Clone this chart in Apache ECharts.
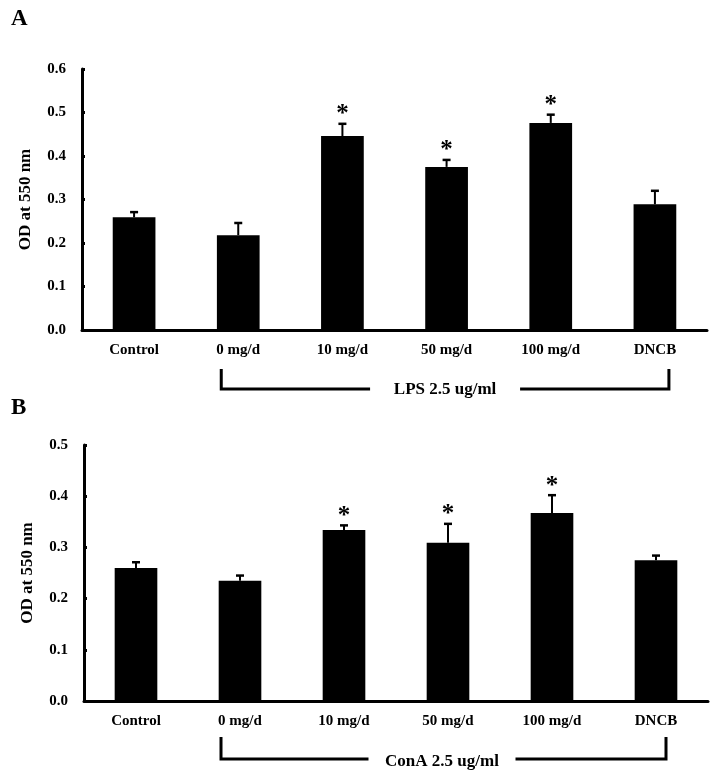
<!DOCTYPE html>
<html><head><meta charset="utf-8">
<script src="https://cdn.jsdelivr.net/npm/echarts@6/dist/echarts.min.js"></script>
<style>html,body{margin:0;padding:0;background:#fff}#c{width:710px;height:777px}</style>
</head><body><div id="c"></div>
<script>
var categories = ['Control', '0 mg/d', '10 mg/d', '50 mg/d', '100 mg/d', 'DNCB'];
var lpsMean = [0.259, 0.218, 0.446, 0.375, 0.476, 0.289];
var lpsErr  = [0.012, 0.028, 0.028, 0.016, 0.019, 0.031];
var lpsSig  = [0, 0, 1, 1, 1, 0];
var conaMean = [0.260, 0.235, 0.334, 0.309, 0.367, 0.275];
var conaErr  = [0.011, 0.010, 0.009, 0.037, 0.035, 0.009];
var conaSig  = [0, 0, 1, 1, 1, 0];
var yTicksA = [0, 0.1, 0.2, 0.3, 0.4, 0.5, 0.6];
var yTicksB = [0, 0.1, 0.2, 0.3, 0.4, 0.5];
var yName = 'OD at 550 nm';
var bracketA = 'LPS 2.5 ug/ml';
var bracketB = 'ConA 2.5 ug/ml';

var FONT = '"Liberation Serif", "Times New Roman", serif';
var chart = echarts.init(document.getElementById('c'), null, {renderer: 'canvas'});

function errData(mean, err, sig) {
  return mean.map(function (m, i) { return [i, m, m + err[i], sig[i]]; });
}
function errRender(params, api) {
  var i = api.value(0);
  var top = api.coord([i, api.value(1)]);
  var hi = api.coord([i, api.value(2)]);
  var children = [
    {type: 'line', shape: {x1: top[0], y1: top[1], x2: hi[0], y2: hi[1]}, style: {stroke: '#000', lineWidth: 2}},
    {type: 'line', shape: {x1: hi[0] - 4, y1: hi[1], x2: hi[0] + 4, y2: hi[1]}, style: {stroke: '#000', lineWidth: 2.5}}
  ];
  if (api.value(3)) {
    children.push({type: 'text', style: {text: '*', x: hi[0], y: hi[1] - 9, align: 'center', verticalAlign: 'middle',
      font: 'bold 25px ' + FONT, fill: '#000'}});
  }
  return {type: 'group', children: children};
}
function xAxisCfg(gi) {
  return {
    type: 'category', gridIndex: gi, data: categories,
    axisLine: {lineStyle: {color: '#000', width: 3}},
    axisTick: {show: false},
    axisLabel: {color: '#000', fontFamily: FONT, fontWeight: 'bold', fontSize: 15, margin: 13}
  };
}
function yAxisCfg(gi, max) {
  return {
    type: 'value', gridIndex: gi, min: 0, max: max, interval: 0.1,
    name: yName, nameLocation: 'middle', nameGap: 48, nameRotate: 90,
    nameTextStyle: {color: '#000', fontFamily: FONT, fontWeight: 'bold', fontSize: 17},
    axisLine: {show: true, lineStyle: {color: '#000', width: 3}},
    axisTick: {show: true, inside: true, length: 3, lineStyle: {color: '#000', width: 3}},
    splitLine: {show: false},
    axisLabel: {color: '#000', fontFamily: FONT, fontWeight: 'bold', fontSize: 15, margin: 16,
      formatter: function (v) { return v.toFixed(1); }}
  };
}

chart.setOption({
  animation: false,
  backgroundColor: '#fff',
  title: [
    {text: 'A', left: 6, top: 3, textStyle: {fontFamily: FONT, fontWeight: 'bold', fontSize: 23, color: '#000'}},
    {text: 'B', left: 6, top: 392, textStyle: {fontFamily: FONT, fontWeight: 'bold', fontSize: 23, color: '#000'}}
  ],
  grid: [
    {left: 82, right: 3, top: 69, height: 261},
    {left: 84, right: 2, top: 445, height: 256}
  ],
  xAxis: [xAxisCfg(0), xAxisCfg(1)],
  yAxis: [yAxisCfg(0, yTicksA[yTicksA.length - 1]), yAxisCfg(1, yTicksB[yTicksB.length - 1])],
  series: [
    {type: 'bar', xAxisIndex: 0, yAxisIndex: 0, data: lpsMean, barWidth: '41%', itemStyle: {color: '#000'}},
    {type: 'custom', xAxisIndex: 0, yAxisIndex: 0, data: errData(lpsMean, lpsErr, lpsSig), renderItem: errRender, z: 5},
    {type: 'bar', xAxisIndex: 1, yAxisIndex: 1, data: conaMean, barWidth: '41%', itemStyle: {color: '#000'}},
    {type: 'custom', xAxisIndex: 1, yAxisIndex: 1, data: errData(conaMean, conaErr, conaSig), renderItem: errRender, z: 5}
  ]
});

function bracket(gi, label, leftOff, rightOff, drop, h, gapL, gapR, textDy) {
  var l = chart.convertToPixel({xAxisIndex: gi, yAxisIndex: gi}, [1, 0]);
  var r = chart.convertToPixel({xAxisIndex: gi, yAxisIndex: gi}, [5, 0]);
  var x1 = l[0] + leftOff, x2 = r[0] + rightOff;
  var y1 = l[1] + drop, y2 = y1 + h;
  var mid = (x1 + x2) / 2;
  var ls = {stroke: '#000', lineWidth: 3};
  return [
    {type: 'polyline', shape: {points: [[x1, y1], [x1, y2], [mid - gapL, y2]]}, style: ls},
    {type: 'polyline', shape: {points: [[mid + gapR, y2], [x2, y2], [x2, y1]]}, style: ls},
    {type: 'text', style: {text: label, x: mid - gapL + (gapL + gapR) / 2, y: y2 + textDy, align: 'center', verticalAlign: 'middle',
      font: 'bold 17px ' + FONT, fill: '#000'}}
  ];
}
chart.setOption({graphic: bracket(0, bracketA, -17, 14, 39, 20, 75, 75, 1).concat(bracket(1, bracketB, -19, 10, 36, 22, 75, 72, 3))});
</script></body></html>
